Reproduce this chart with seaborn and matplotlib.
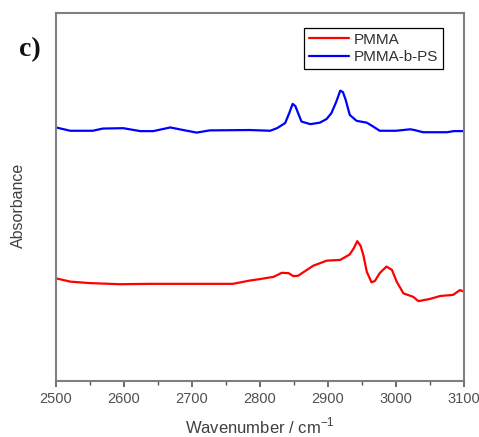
import numpy as np
import pandas as pd
import matplotlib
matplotlib.use("Agg")
import matplotlib.pyplot as plt
import seaborn as sns
from matplotlib.ticker import MultipleLocator

# FTIR spectra (C-H stretching region), absorbance in arbitrary units
pmma_wn = [2500, 2521, 2550, 2594, 2638, 2697, 2726, 2760, 2785, 2800, 2820, 2832,
           2842, 2849, 2856, 2878, 2898, 2918, 2932, 2938, 2943, 2948, 2952, 2957,
           2964, 2969, 2976, 2986, 2994, 3001, 3011, 3025, 3033, 3050, 3065, 3084,
           3094, 3100]
pmma_abs = [0.279, 0.270, 0.266, 0.263, 0.264, 0.264, 0.264, 0.264, 0.273, 0.277,
            0.283, 0.294, 0.293, 0.285, 0.286, 0.313, 0.327, 0.329, 0.344, 0.361,
            0.380, 0.367, 0.342, 0.297, 0.268, 0.272, 0.293, 0.311, 0.302, 0.270,
            0.238, 0.229, 0.217, 0.223, 0.231, 0.234, 0.247, 0.243]

bcp_wn = [2500, 2521, 2554, 2569, 2599, 2624, 2643, 2668, 2687, 2707, 2726, 2785,
          2815, 2825, 2837, 2843, 2848, 2852, 2856, 2861, 2874, 2888, 2898, 2905,
          2912, 2918, 2922, 2926, 2932, 2942, 2957, 2966, 2976, 3000, 3021, 3027,
          3040, 3075, 3085, 3100]
bcp_abs = [0.689, 0.680, 0.680, 0.686, 0.687, 0.679, 0.679, 0.689, 0.682, 0.675,
           0.681, 0.682, 0.680, 0.687, 0.701, 0.728, 0.753, 0.747, 0.728, 0.705,
           0.698, 0.702, 0.712, 0.728, 0.758, 0.789, 0.785, 0.764, 0.723, 0.707,
           0.702, 0.692, 0.680, 0.680, 0.684, 0.682, 0.676, 0.676, 0.679, 0.679]

series_names = ["PMMA", "PMMA-b-PS"]
series_colors = ["#ff0000", "#0000ff"]
x_ticks = [2500, 2600, 2700, 2800, 2900, 3000, 3100]

df = pd.concat([
    pd.DataFrame({"Wavenumber": pmma_wn, "Absorbance": pmma_abs, "Sample": series_names[0]}),
    pd.DataFrame({"Wavenumber": bcp_wn, "Absorbance": bcp_abs, "Sample": series_names[1]}),
], ignore_index=True)

sns.set_style("white")
plt.rcParams["font.family"] = ["Liberation Sans", "DejaVu Sans"]
plt.rcParams["mathtext.fontset"] = "custom"
plt.rcParams["mathtext.rm"] = "Liberation Sans"

fig = plt.figure(figsize=(4.79, 4.37), dpi=100)
ax = fig.add_axes([56 / 479, 1 - 381 / 437, 408 / 479, 368 / 437])

sns.lineplot(data=df, x="Wavenumber", y="Absorbance", hue="Sample",
             hue_order=series_names, palette=series_colors, linewidth=1.6,
             sort=True, estimator=None, ax=ax)

ax.set_xlim(2500, 3100)
ax.set_ylim(0, 1)
ax.set_xticks(x_ticks)
ax.xaxis.set_minor_locator(MultipleLocator(50))
ax.set_yticks([])
ax.tick_params(axis="x", which="major", direction="out", length=4, width=1.2,
               color="#555555", labelsize=10.5, labelcolor="#505050", pad=4, bottom=True)
ax.tick_params(axis="x", which="minor", direction="out", length=3, width=1.0,
               color="#555555", bottom=True)
for s in ax.spines.values():
    s.set_color("#808080")
    s.set_linewidth(1.5)

ax.set_xlabel(r"Wavenumber / cm$^{\mathregular{-1}}$", fontsize=12, color="#404040", labelpad=7)
ax.set_ylabel("Absorbance", fontsize=11.5, color="#404040")
ax.yaxis.set_label_coords(-0.074, 0.476)

leg = ax.legend(loc="upper right", bbox_to_anchor=(443 / 479, 1 - 28 / 437),
                bbox_transform=fig.transFigure, frameon=True, fancybox=False,
                framealpha=1, edgecolor="#000000", fontsize=11, handlelength=2.6,
                handletextpad=0.35, borderpad=0.3, labelspacing=0.25, borderaxespad=0)
leg.get_frame().set_linewidth(0.9)
for t in leg.get_texts():
    t.set_color("#303030")
for h in leg.get_lines():
    h.set_linewidth(1.6)

fig.text(30 / 479, 1 - 50 / 437, "c)", fontsize=20, fontweight="bold",
         family="Liberation Serif", ha="center", va="center", color="#111111")

fig.savefig("out.png", dpi=100)
